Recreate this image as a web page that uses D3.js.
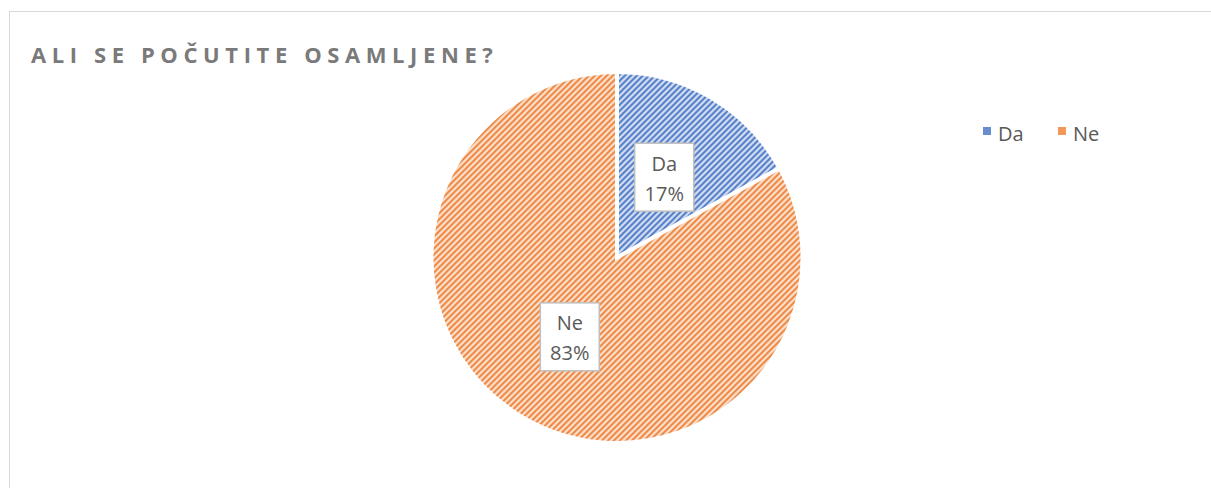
<!doctype html>
<html>
<head>
<meta charset="utf-8"/>
<title>Ali se počutite osamljene?</title>
<script src="https://d3js.org/d3.v7.min.js"></script>
<style>
body { margin: 0; background: #fff; }
svg text { font-family: "Open Sans", sans-serif; }
</style>
</head>
<body>
<script>
// podatki
var kategorije = ["Da", "Ne"];
var vrednosti = [17, 83];
var barve = ["#4472c4", "#ed7d31"];
var ozadja = ["#d0dcf1", "#fbdfcc"];

var W = 1211, H = 488;
var svg = d3.select("body").append("svg")
    .attr("width", W)
    .attr("height", H);

// vzorci - diagonalne crte
var defs = svg.append("defs");
kategorije.forEach(function(k, i) {
  var p = defs.append("pattern")
      .attr("id", "vz" + i)
      .attr("patternUnits", "userSpaceOnUse")
      .attr("width", 6)
      .attr("height", 6);
  p.append("rect").attr("width", 6).attr("height", 6).attr("fill", ozadja[i]);
  p.append("path")
      .attr("d", "M0,6L6,0M-1,1L1,-1M5,7L7,5")
      .attr("stroke", barve[i])
      .attr("stroke-width", 1.8);
});

// okvir
svg.append("rect")
    .attr("x", 9.5).attr("y", 11.5)
    .attr("width", W + 20).attr("height", H + 20)
    .attr("fill", "none")
    .attr("stroke", "#d9d9d9");

// naslov
svg.append("text")
    .attr("x", 31).attr("y", 63)
    .attr("font-size", 22)
    .attr("font-weight", "bold")
    .attr("letter-spacing", 5.6)
    .attr("fill", "#7a7a7a")
    .text("ALI SE POČUTITE OSAMLJENE?");

var cx = 617, cy = 257.5, R = 185.5;

var pie = d3.pie().sort(null).value(function(d) { return d; });
var arc = d3.arc().innerRadius(0).outerRadius(R);

var g = svg.append("g").attr("transform", "translate(" + cx + "," + cy + ")");
var rezine = pie(vrednosti);

g.selectAll("path.rez")
    .data(rezine)
  .enter().append("path")
    .attr("class", "rez")
    .attr("d", arc)
    .attr("fill", function(d, i) { return "url(#vz" + i + ")"; })
    .attr("stroke", "#fff")
    .attr("stroke-width", 4)
    .attr("stroke-linejoin", "miter");

// oznake
var oz = g.selectAll("g.oz")
    .data(rezine)
  .enter().append("g")
    .attr("class", "oz")
    .attr("transform", function(d) {
      var c = arc.centroid(d);
      return "translate(" + c[0] + "," + c[1] + ")";
    });

oz.append("rect")
    .attr("x", -29.5).attr("y", -34.5)
    .attr("width", 59).attr("height", 68)
    .attr("fill", "#fff")
    .attr("stroke", "#bfbfbf")
    .attr("stroke-width", 1.5);

oz.append("text")
    .attr("text-anchor", "middle")
    .attr("y", -7)
    .attr("font-size", 20)
    .attr("fill", "#595959")
    .text(function(d, i) { return kategorije[i]; });

oz.append("text")
    .attr("text-anchor", "middle")
    .attr("y", 23)
    .attr("font-size", 20)
    .attr("fill", "#595959")
    .text(function(d) { return d.value + "%"; });

// legenda
var leg = svg.append("g").attr("transform", "translate(983,127)");
var lx = [0, 75];
kategorije.forEach(function(k, i) {
  var e = leg.append("g").attr("transform", "translate(" + lx[i] + ",0)");
  e.append("rect").attr("width", 8).attr("height", 8)
      .attr("fill", barve[i]).attr("opacity", 0.8);
  e.append("text")
      .attr("x", 15).attr("y", 14)
      .attr("font-size", 20)
      .attr("fill", "#595959")
      .text(k);
});
</script>
</body>
</html>
